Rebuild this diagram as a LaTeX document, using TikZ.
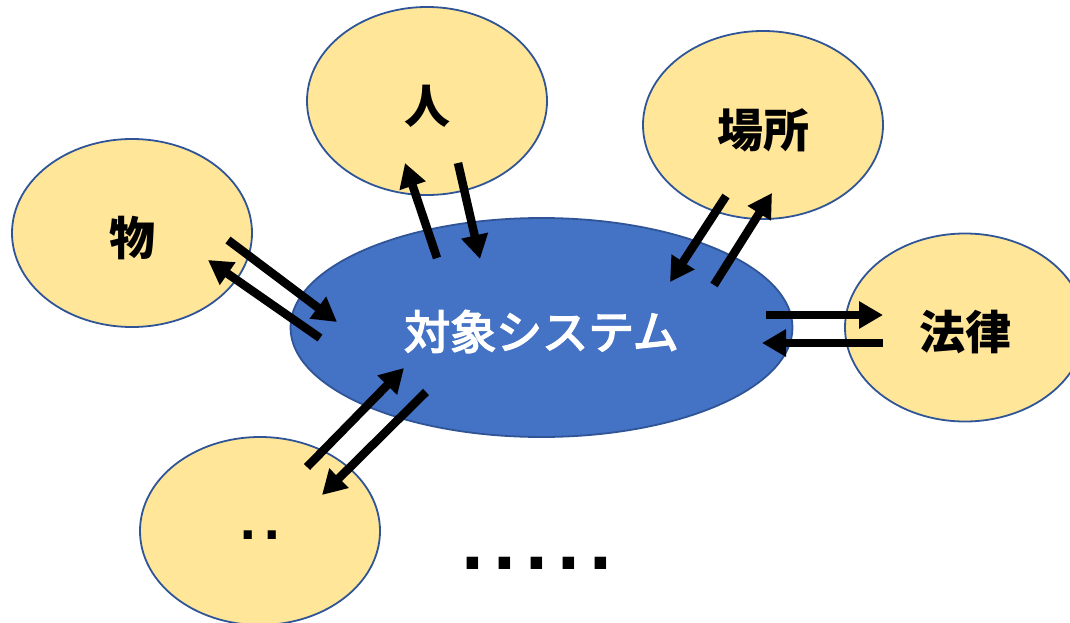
\documentclass[tikz,border=0pt]{standalone}
\usepackage{fontspec}
\newfontfamily\jp{Noto Sans CJK JP}
\newfontfamily\dv{DejaVu Sans}
\usetikzlibrary{arrows.meta,shapes.geometric}
\definecolor{gold}{HTML}{FFE699}
\definecolor{edge}{HTML}{2F5597}
\definecolor{core}{HTML}{4472C4}
\begin{document}
\begin{tikzpicture}[x=1pt,y=-1pt,
  sat/.style={ellipse,draw=edge,line width=1.8pt,fill=gold,minimum width=240pt,minimum height=188pt,inner sep=0pt},
  lab/.style={font=\jp\bfseries\fontsize{46}{50}\selectfont,text=black,inner sep=0pt},
  arr/.style={-{Triangle[length=24pt,width=26pt]},line width=8.5pt,black},
  dotlab/.style={font=\dv\bfseries,inner sep=0pt,text=black}]
\useasboundingbox (0,0) rectangle (1070,623);
\clip (0,0) rectangle (1070,623);
% satellites
\node[sat] (hito) at (427,101) {};
\node[sat] (basho) at (763,125) {};
\node[sat] (mono) at (132,233) {};
\node[sat] (hou) at (965,327.5) {};
\node[sat] (etc) at (260,531) {};
% centre
\node[ellipse,draw=edge,line width=1.8pt,fill=core,minimum width=502pt,minimum height=219pt,inner sep=0pt] (sys) at (541.5,327.5) {};
% labels
\node[lab,yshift=-5pt] (lhito) at (hito) {人};
\node[lab,yshift=-5pt] (lbasho) at (basho) {場所};
\node[lab,yshift=-5pt] (lmono) at (mono) {物};
\node[lab,yshift=-5pt] (lhou) at (hou) {法律};
\node[lab,yshift=-4pt,font=\jp\fontsize{46}{50}\selectfont,text=white] (lsys) at (sys) {\special{pdf:code q 2 Tr 1.6 w 1 G}対象システム\special{pdf:code Q}};
\node[dotlab,font=\dv\bfseries\fontsize{46}{50}\selectfont] (ldots) at (260,535) {.\hspace{6.5pt}.};
\node[dotlab,font=\dv\bfseries\fontsize{65}{70}\selectfont] (more) at (537,563.5) {.\hspace{7.3pt}.\hspace{7.3pt}.\hspace{7.3pt}.\hspace{7.3pt}.};
% arrow end points
\coordinate (h1) at (437,258); \coordinate (h2) at (405,163);
\coordinate (h3) at (458,163); \coordinate (h4) at (480,259);
\coordinate (m1) at (228,240); \coordinate (m2) at (337,322);
\coordinate (m3) at (320,338); \coordinate (m4) at (208,260);
\coordinate (b1) at (726,196); \coordinate (b2) at (670,282);
\coordinate (b3) at (714,285); \coordinate (b4) at (772,193);
\coordinate (r1) at (766,315); \coordinate (r2) at (883,315);
\coordinate (r3) at (883,343); \coordinate (r4) at (762,343);
\coordinate (e1) at (307,467); \coordinate (e2) at (404,368);
\coordinate (e3) at (426,392); \coordinate (e4) at (322,495);
\draw[arr] (h1) -- (h2);
\draw[arr] (h3) -- (h4);
\draw[arr] (m1) -- (m2);
\draw[arr] (m3) -- (m4);
\draw[arr] (b1) -- (b2);
\draw[arr] (b3) -- (b4);
\draw[arr] (r1) -- (r2);
\draw[arr] (r3) -- (r4);
\draw[arr] (e1) -- (e2);
\draw[arr] (e3) -- (e4);
\end{tikzpicture}
\end{document}
